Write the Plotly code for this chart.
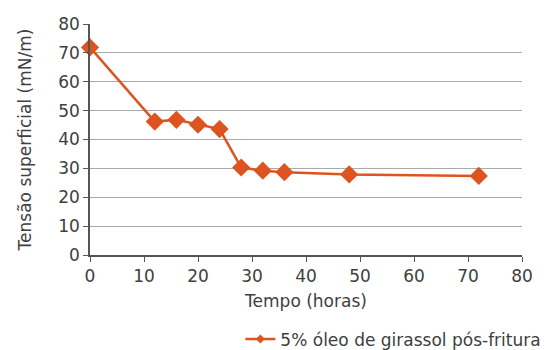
import plotly.graph_objects as go

tempo = [0, 12, 16, 20, 24, 28, 32, 36, 48, 72]
tensao = [71.9, 46.2, 46.8, 45.1, 43.6, 30.3, 29.2, 28.7, 27.9, 27.4]
serie = "5% óleo de girassol pós-fritura"
cor = "#DD5420"
fonte = "DejaVu Sans, sans-serif"
texto = "#404040"

fig = go.Figure()
fig.add_trace(go.Scatter(
    x=tempo, y=tensao, mode="lines+markers", name=serie, showlegend=False,
    line=dict(color=cor, width=2.5),
    marker=dict(symbol="diamond", size=14, color=cor),
    cliponaxis=False,
))
fig.add_trace(go.Scatter(
    x=[None], y=[None], mode="lines+markers", name=serie, showlegend=True,
    line=dict(color=cor, width=2.5),
    marker=dict(symbol="diamond", size=7, color=cor),
))

fig.update_layout(
    width=559, height=350,
    margin=dict(l=90, r=37, t=24, b=95),
    paper_bgcolor="white", plot_bgcolor="white",
    font=dict(family=fonte, size=17, color=texto),
    showlegend=True,
    legend=dict(orientation="h", xref="container", x=0.43, xanchor="left",
                yref="container", y=0.03, yanchor="middle",
                font=dict(size=17, color=texto), itemwidth=30,
                bgcolor="rgba(0,0,0,0)"),
    xaxis=dict(range=[0, 80], tickvals=list(range(0, 81, 10)), showgrid=False,
               showline=True, linecolor="#555555", linewidth=1.5,
               ticks="outside", ticklen=5, tickcolor="#555555",
               zeroline=False, automargin=False,
               title=dict(text="Tempo (horas)", standoff=10, font=dict(size=17))),
    yaxis=dict(range=[0, 80], tickvals=list(range(0, 81, 10)), showgrid=True,
               gridcolor="#AAAAAA", gridwidth=1,
               showline=True, linecolor="#555555", linewidth=1.5,
               ticks="outside", ticklen=5, tickcolor="#555555",
               zeroline=False, automargin=False,
               title=dict(text="Tensão superficial (mN/m)", standoff=22, font=dict(size=17))),
)

fig.write_html("out.html")
